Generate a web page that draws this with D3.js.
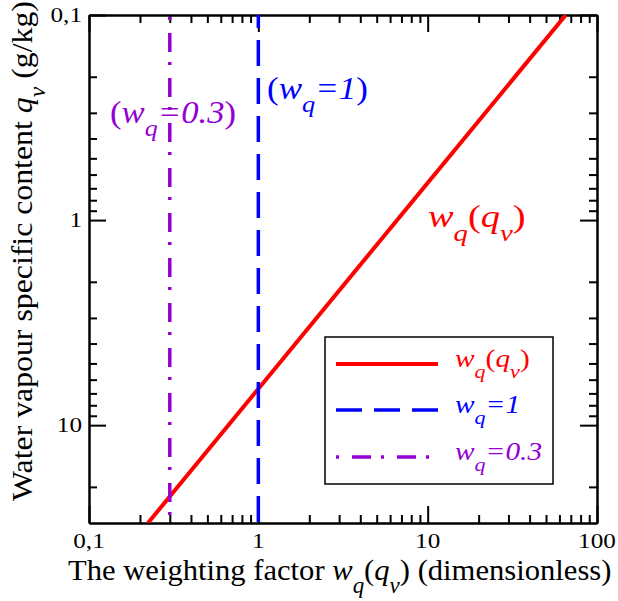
<!DOCTYPE html>
<html>
<head>
<meta charset="utf-8">
<script src="https://cdn.jsdelivr.net/npm/d3@7"></script>
<style>
  html, body { margin: 0; padding: 0; background: #fff; }
  svg { display: block; }
  text { font-family: "Liberation Serif", "Times New Roman", serif; }
</style>
</head>
<body>
<svg id="chart" width="618" height="601"></svg>
<script>
// ---- data ----
const xDomain = [0.1, 100];
const yDomain = [0.1, 30];
const xMajorTicks = [0.1, 1, 10, 100];
const xTickLabels = ["0,1", "1", "10", "100"];
const yMajorTicks = [0.1, 1, 10];
const yTickLabels = ["0,1", "1", "10"];
// weighting curve w_q(q_v)
const curveQ = [0.1, 30];
const curveW = [65.4, 0.223];
// constant reference weights
const refWeights = [1, 0.3];

// ---- layout ----
const svg = d3.select("#chart");
const L = 89, R = 597, T = 15, B = 523;

const x = d3.scaleLog().domain(xDomain).range([L, R]);
const y = d3.scaleLog().domain(yDomain).range([T, B]);

const red = "#ff0000", blue = "#0000ff", violet = "#9400d3";

svg.append("clipPath").attr("id", "clip")
  .append("rect").attr("x", L).attr("y", T).attr("width", R - L).attr("height", B - T);

// helper for rich text with optional stretch
function richText(parent, px, py, anchor, size, color, parts, sx, sy, rotate) {
  const g = parent.append("g")
    .attr("transform", `translate(${px},${py}) scale(${sx || 1},${sy || 1})` + (rotate ? ` rotate(${rotate})` : ""));
  const t = g.append("text").attr("text-anchor", anchor)
    .attr("font-size", size).attr("fill", color);
  parts.forEach(p => {
    const ts = t.append("tspan").text(p.t);
    if (p.i) ts.attr("font-style", "italic");
    if (p.sub) ts.attr("font-size", size * 0.75).attr("baseline-shift", -size * 0.42);
  });
  return g;
}

// ---- axes ----
const isMajor = v => [0.1, 1, 10, 100].some(m => Math.abs(m - v) < 1e-9);
const xMinor = x.ticks().filter(v => !isMajor(v));
const yMinor = y.ticks().filter(v => !isMajor(v) && v < yDomain[1]);

const axisG = svg.append("g");
function styleAxis(g) {
  g.selectAll("path.domain").attr("stroke", "#000").attr("stroke-width", 2);
  g.selectAll(".tick line").attr("stroke", "#000").attr("stroke-width", 2);
  g.selectAll(".tick text").remove();
}
function addAxis(axisFn, scale, translate, values, size) {
  axisG.append("g").attr("transform", translate)
    .call(axisFn(scale).tickValues(values).tickSize(-size).tickSizeOuter(0)).call(styleAxis);
}
addAxis(d3.axisBottom, x, `translate(0,${B})`, xMajorTicks, 17);
addAxis(d3.axisBottom, x, `translate(0,${B})`, xMinor, 8);
addAxis(d3.axisTop, x, `translate(0,${T})`, xMajorTicks, 17);
addAxis(d3.axisTop, x, `translate(0,${T})`, xMinor, 8);
addAxis(d3.axisLeft, y, `translate(${L},0)`, yMajorTicks, 17);
addAxis(d3.axisLeft, y, `translate(${L},0)`, yMinor, 8);
addAxis(d3.axisRight, y, `translate(${R},0)`, yMajorTicks, 17);
addAxis(d3.axisRight, y, `translate(${R},0)`, yMinor, 8);

// tick labels
xMajorTicks.forEach((v, i) => {
  richText(svg, x(v), B + 25, "middle", 21, "#000", [{t: xTickLabels[i]}], 1.2);
});
yMajorTicks.forEach((v, i) => {
  richText(svg, L - 7, y(v) + 7, "end", 21, "#000", [{t: yTickLabels[i]}], 1.2);
});

// ---- series ----
const plot = svg.append("g").attr("clip-path", "url(#clip)");
const curveData = curveQ.map((q, i) => ({w: curveW[i], q}));
plot.append("path").datum(curveData)
  .attr("fill", "none").attr("stroke", red).attr("stroke-width", 4)
  .attr("d", d3.line().x(d => x(d.w)).y(d => y(d.q)));

plot.append("line")
  .attr("x1", x(refWeights[0])).attr("x2", x(refWeights[0]))
  .attr("y1", y(yDomain[0])).attr("y2", y(yDomain[1]))
  .attr("stroke", blue).attr("stroke-width", 3.5).attr("stroke-dasharray", "26,12")
  .attr("stroke-dashoffset", 13);
plot.append("line")
  .attr("x1", x(refWeights[1])).attr("x2", x(refWeights[1]))
  .attr("y1", y(yDomain[0])).attr("y2", y(yDomain[1]))
  .attr("stroke", violet).attr("stroke-width", 3.5).attr("stroke-dasharray", "19,10,3,13")
  .attr("stroke-dashoffset", 27);

// ---- annotations ----
richText(svg, 110, 123, "start", 31, violet,
  [{t: "("}, {t: "w", i: 1}, {t: "q", i: 1, sub: 1}, {t: "=0.3", i: 1}, {t: ")"}], 1.12);
richText(svg, 267, 99, "start", 31, blue,
  [{t: "("}, {t: "w", i: 1}, {t: "q", i: 1, sub: 1}, {t: "=1", i: 1}, {t: ")"}], 1.13);
richText(svg, 428, 227, "start", 32, red,
  [{t: "w", i: 1}, {t: "q", i: 1, sub: 1}, {t: "("}, {t: "q", i: 1}, {t: "v", i: 1, sub: 1}, {t: ")"}], 1.2);

// ---- legend ----
const leg = svg.append("g");
leg.append("rect").attr("x", 325).attr("y", 337).attr("width", 228).attr("height", 147)
  .attr("fill", "#fff").attr("stroke", "#000").attr("stroke-width", 1.5);
const legItems = [
  {color: red, dash: null, w: 4, y: 364, parts: [{t: "w", i: 1}, {t: "q", i: 1, sub: 1}, {t: "("}, {t: "q", i: 1}, {t: "v", i: 1, sub: 1}, {t: ")"}]},
  {color: blue, dash: "26,12", w: 3.5, y: 410, parts: [{t: "w", i: 1}, {t: "q", i: 1, sub: 1}, {t: "=1", i: 1}]},
  {color: violet, dash: "3,13,19,10", w: 3.5, y: 457, parts: [{t: "w", i: 1}, {t: "q", i: 1, sub: 1}, {t: "=0.3", i: 1}]}
];
legItems.forEach(it => {
  const ln = leg.append("line").attr("x1", 336).attr("x2", 438).attr("y1", it.y).attr("y2", it.y)
    .attr("stroke", it.color).attr("stroke-width", it.w);
  if (it.dash) ln.attr("stroke-dasharray", it.dash);
  richText(leg, 455, it.y + 3, "start", 26, it.color, it.parts, 1.13);
});

// ---- axis titles ----
richText(svg, 68, 580, "start", 30, "#000",
  [{t: "The weighting factor "}, {t: "w", i: 1}, {t: "q", i: 1, sub: 1}, {t: "("}, {t: "q", i: 1}, {t: "v", i: 1, sub: 1}, {t: ") (dimensionless)"}], 1.02);
richText(svg, 32, 251, "middle", 30, "#000",
  [{t: "Water vapour specific content "}, {t: "q", i: 1}, {t: "v", i: 1, sub: 1}, {t: " (g/kg)"}], 1, 1.06, -90);
</script>
</body>
</html>
